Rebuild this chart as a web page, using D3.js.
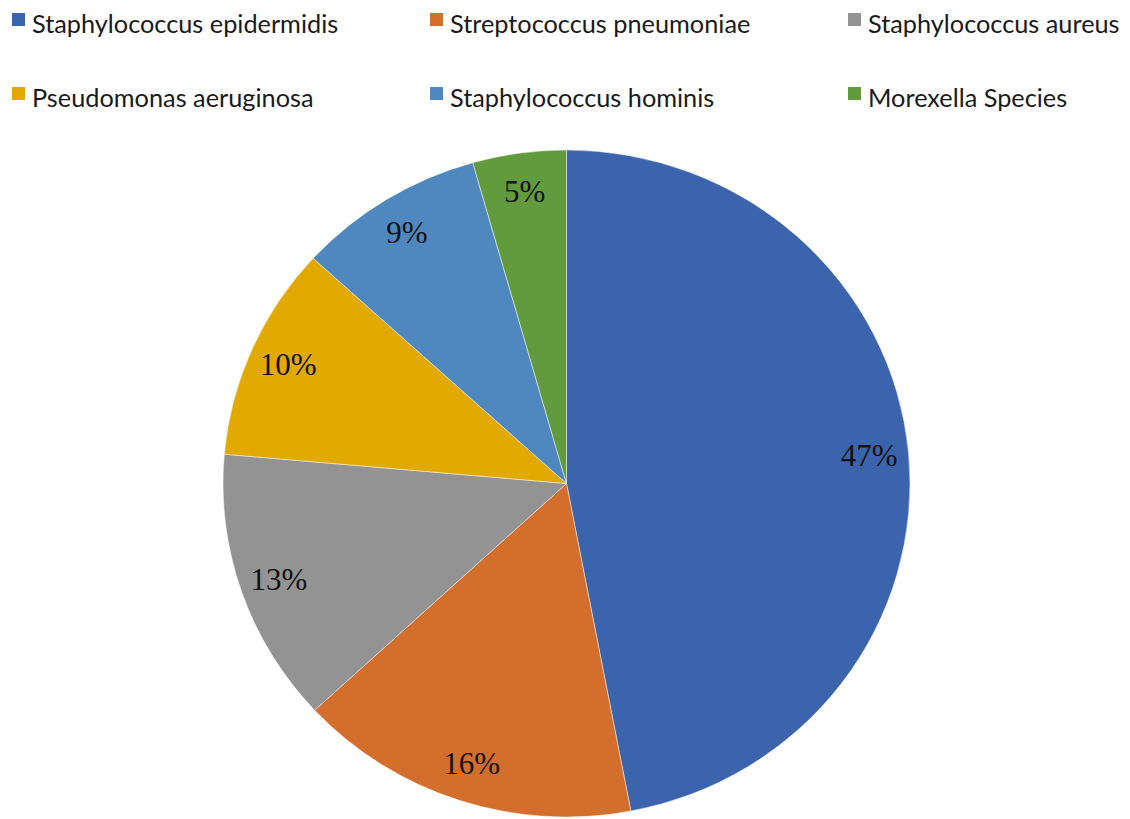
<!DOCTYPE html>
<html><head><meta charset="utf-8">
<script src="https://cdn.jsdelivr.net/npm/d3@7"></script>
<style>body{margin:0;background:#fff}svg{display:block}</style>
</head><body>
<svg id="c" width="1130" height="819"></svg>
<script>
const categories = ["Staphylococcus epidermidis","Streptococcus pneumoniae","Staphylococcus aureus","Pseudomonas aeruginosa","Staphylococcus hominis","Morexella Species"];
const values = [47.0,16.1,13.3,10.4,8.8,4.4];
const labels = ["47%","16%","13%","10%","9%","5%"];
const colors = ["#3c64ac","#d46e2c","#939393","#e2aa00","#4f88be","#629b3e"];

const svg = d3.select("#c");
const cx = 566.5, cy = 483.5, r = 343.5, sy = 333.5/343.5;

const pie = d3.pie().sort(null).value(d=>d)(values);
const arc = d3.arc().innerRadius(0).outerRadius(r);
const labelArc = d3.arc().innerRadius(r*0.885).outerRadius(r*0.885);

const g = svg.append("g").attr("transform",`translate(${cx},${cy}) scale(1,${sy})`);
g.selectAll("path").data(pie).join("path")
  .attr("d",arc).attr("fill",(d,i)=>colors[i])
  .attr("stroke","#fff").attr("stroke-width",0.8).attr("stroke-opacity",0.6);

const lg = svg.append("g").attr("transform",`translate(${cx},${cy})`);
lg.selectAll("text").data(pie).join("text")
  .attr("x",d=>labelArc.centroid(d)[0])
  .attr("y",d=>labelArc.centroid(d)[1]*sy)
  .attr("text-anchor","middle").attr("dominant-baseline","central")
  .attr("font-family","'Liberation Serif','Times New Roman',serif")
  .attr("font-size",31).attr("fill","#111")
  .text((d,i)=>labels[i]);

// legend
const colX = [12,430,848], rowY = [33,107];
const leg = svg.append("g");
categories.forEach((c,i)=>{
  const x = colX[i%3], y = rowY[Math.floor(i/3)];
  leg.append("rect").attr("x",x).attr("y",y-20).attr("width",13).attr("height",13).attr("fill",colors[i]);
  leg.append("text").attr("x",x+20).attr("y",y)
    .attr("font-family","Lato,'Open Sans',sans-serif").attr("font-size",25.3).attr("fill","#1a1a1a")
    .text(c);
});
</script>
</body></html>
